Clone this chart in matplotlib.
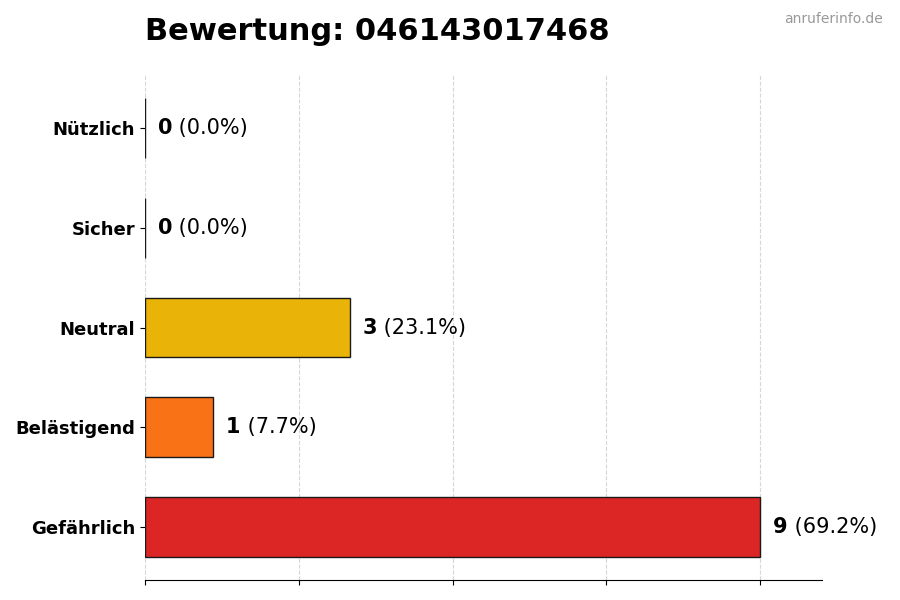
import matplotlib
matplotlib.use("Agg")
import matplotlib.pyplot as plt
import numpy as np

# Daten
kategorien = ['Gefährlich', 'Belästigend', 'Neutral', 'Sicher', 'Nützlich']
anzahl = [9, 1, 3, 0, 0]
farben = ['#dc2626', '#f97316', '#eab308', '#22c55e', '#16a34a']
titel = 'Bewertung: 046143017468'
quelle = 'anruferinfo.de'

gesamt = sum(anzahl)
maximum = max(anzahl)

fig = plt.figure(figsize=(9, 6), dpi=100)
ax = fig.add_axes([0.161, 0.0333, 0.752, 0.8417])

y = np.arange(len(kategorien))
ax.barh(y, anzahl, height=0.6, color=farben, edgecolor='#1a1a1a', linewidth=1.0, zorder=3)

ax.set_yticks(y)
ax.set_yticklabels(kategorien, fontsize=13, fontweight='bold')
ax.set_xlim(0, maximum * 1.1)
ax.set_xticks(np.linspace(0, maximum, 5))
ax.set_xticklabels([])
ax.grid(axis='x', linestyle='--', color='#cccccc', alpha=0.8, zorder=0)

for s in ['top', 'right', 'left']:
    ax.spines[s].set_visible(False)

# Werte neben den Balken
for i, wert in enumerate(anzahl):
    prozent = wert / gesamt * 100
    t = ax.text(wert + maximum * 0.021, i, str(wert), fontsize=15, fontweight='bold',
                va='center', ha='left')
    ax.annotate(f' ({prozent:.1f}%)', xy=(1, 0.5), xycoords=t, va='center', ha='left',
                fontsize=15)

fig.text(0.161, 0.948, titel, fontsize=22, fontweight='bold', ha='left', va='center')
fig.text(0.981, 0.969, quelle, fontsize=10, color='#999999', ha='right', va='center')

fig.savefig('out.png', dpi=100)
